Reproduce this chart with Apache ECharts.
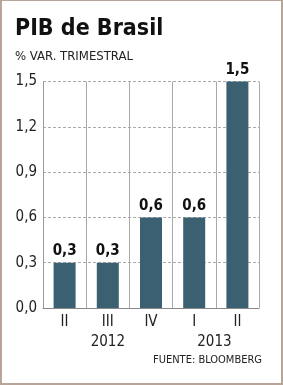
<!DOCTYPE html>
<html><head><meta charset="utf-8">
<script src="https://cdn.jsdelivr.net/npm/echarts@6/dist/echarts.min.js"></script>
<style>
html,body{margin:0;padding:0;background:#fff;}
#frame{position:absolute;left:0;top:0;width:283px;height:385px;box-sizing:border-box;border:2px solid #b9a49a;border-top-width:1px;}
#c{position:absolute;left:0;top:0;width:283px;height:385px;}
</style></head>
<body>
<div id="c"></div><div id="frame"></div>
<script>
const quarters = ['II', 'III', 'IV', 'I', 'II'];
const years = ['', '2012', '', '', '2013'];
const values = [0.3, 0.3, 0.6, 0.6, 1.5];
const yTicks = { min: 0, max: 1.5, interval: 0.3 };
const titleText = 'PIB de Brasil';
const subtitleText = '% VAR. TRIMESTRAL';
const sourceText = 'FUENTE: BLOOMBERG';

const FONT = '"DejaVu Sans Condensed", "DejaVu Sans", sans-serif';
const chart = echarts.init(document.getElementById('c'), null, { renderer: 'canvas' });
const fmt = v => v.toFixed(1).replace('.', ',');
chart.setOption({
  animation: false,
  backgroundColor: '#fff',
  title: [
    { text: titleText, left: 15, top: 18, padding: 0, textStyle: { fontFamily: FONT, fontWeight: 'bold', fontSize: 23, color: '#111' } },
    { text: subtitleText, left: 15, top: 50, padding: 0, textStyle: { fontFamily: FONT, fontWeight: 'normal', fontSize: 13, color: '#222' } },
    { text: sourceText, right: 21, top: 355, padding: 0, textStyle: { fontFamily: FONT, fontWeight: 'normal', fontSize: 11, color: '#222' } }
  ],
  grid: { left: 43, right: 24, top: 81.5, bottom: 77, containLabel: false },
  xAxis: [
    {
      type: 'category', data: quarters, position: 'bottom',
      axisLine: { show: true, lineStyle: { color: '#888', width: 1 } },
      axisTick: { show: false },
      axisLabel: { margin: 7, fontFamily: FONT, fontSize: 15, color: '#222', interval: 0 },
      splitLine: { show: true, interval: 0, lineStyle: { color: '#aaa', width: 1, type: 'solid' } }
    },
    {
      type: 'category', data: years, position: 'bottom', offset: 20,
      axisLine: { show: false }, axisTick: { show: false }, splitLine: { show: false },
      axisLabel: {
        margin: 7, interval: 0, fontFamily: FONT, fontSize: 15, color: '#222',
        formatter: v => v === '2013' ? '{s|' + v + '}' : v,
        rich: { s: { fontFamily: FONT, fontSize: 15, color: '#222', padding: [0, 46, 0, 0] } }
      }
    }
  ],
  yAxis: {
    type: 'value', min: yTicks.min, max: yTicks.max, interval: yTicks.interval,
    axisLine: { show: true, lineStyle: { color: '#999' } },
    axisTick: { show: false },
    axisLabel: { margin: 6, fontFamily: FONT, fontSize: 15, color: '#222', formatter: fmt },
    splitLine: { show: true, lineStyle: { color: '#aaa', type: [3, 2], width: 1 } }
  },
  series: [{
    type: 'bar', data: values, xAxisIndex: 0, barWidth: 22,
    itemStyle: { color: '#3b6072' },
    label: { show: true, position: 'top', distance: 4, fontFamily: FONT, fontWeight: 'bold', fontSize: 15, color: '#111', formatter: p => fmt(p.value) }
  }]
});
</script>
</body></html>
